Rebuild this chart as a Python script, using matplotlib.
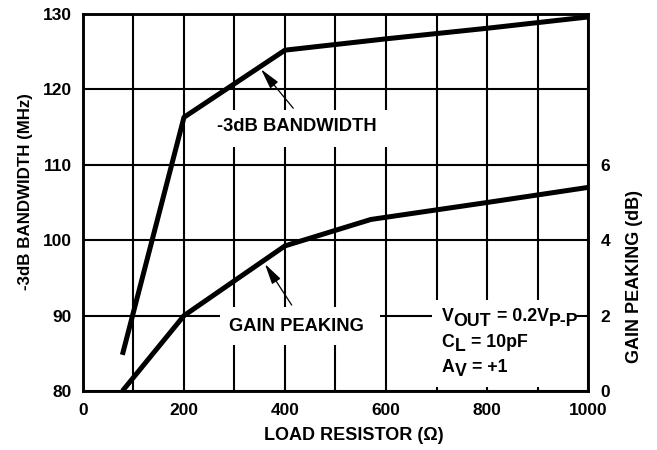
import numpy as np
import matplotlib
matplotlib.use('Agg')
import matplotlib.pyplot as plt
from matplotlib.patches import Rectangle
from matplotlib.transforms import IdentityTransform

# 数据
bw_load = [78, 200, 400, 600, 800, 1000]            # 负载电阻 (Ω)
bw_mhz = [84.8, 116.3, 125.2, 126.7, 128.1, 129.6]  # -3dB 带宽 (MHz)

gp_load = [78, 200, 400, 570, 800, 1000]
gp_db = [0.0, 2.0, 3.85, 4.55, 5.0, 5.4]            # 增益峰值 (dB)

x_ticks = [0, 200, 400, 600, 800, 1000]
y_ticks = [80, 90, 100, 110, 120, 130]
y2_ticks = [0, 2, 4, 6]

plt.rcParams['font.family'] = ['Liberation Sans', 'DejaVu Sans']
plt.rcParams['font.weight'] = 'bold'

fig = plt.figure(figsize=(6.57, 4.5), dpi=100)
ax = fig.add_axes([0.1263, 0.131, 0.7687, 0.838])
ax.set_xlim(0, 1000)
ax.set_ylim(80, 130)
ax.set_xticks(x_ticks)
ax.set_xticks(np.arange(100, 1000, 200), minor=True)
ax.set_yticks(y_ticks)
ax.set_axisbelow(True)
ax.grid(True, which='both', color='black', lw=1.5)
ax.tick_params(which='both', length=0)
ax.tick_params(axis='x', pad=8.5, labelsize=12.5)
ax.tick_params(axis='y', pad=8, labelsize=12.5)
for s in ax.spines.values():
    s.set_linewidth(1.8)
ax.set_xlabel('LOAD RESISTOR (Ω)', fontsize=13, fontweight='bold', va='center', ha='center')
ax.xaxis.set_label_coords(0.536, -0.119)
ax.set_ylabel('-3dB BANDWIDTH (MHz)', fontsize=12.2, fontweight='bold', va='center', ha='center')
ax.yaxis.set_label_coords(-0.114, 0.529)

# 文字后面的白色底（把网格线断开）
for x0, x1, y0, y1 in [(222, 612, 112.36, 117.27), (271, 588, 86.1, 91.1), (691, 974, 80.53, 92.07)]:
    ax.add_patch(Rectangle((x0, y0), x1 - x0, y1 - y0, fc='white', ec='none', zorder=1))

ax2 = ax.twinx()
ax2.set_ylim(0, 10)
ax2.set_yticks(y2_ticks)
ax2.tick_params(length=0, pad=9, labelsize=12.5)
for s in ax2.spines.values():
    s.set_linewidth(1.8)
ax2.set_ylabel('GAIN PEAKING (dB)', fontsize=13, fontweight='bold', va='center', ha='center')
ax2.yaxis.set_label_coords(1.092, 0.304)

ax2.plot(bw_load, [(v - 80) / 5 for v in bw_mhz], color='black', lw=3.6, solid_capstyle='butt', zorder=3)
ax2.plot(gp_load, gp_db, color='black', lw=3.6, solid_capstyle='butt', zorder=3)

ax2.text(424, 115.05, '-3dB BANDWIDTH', transform=ax.transData, ha='center', va='center',
         fontsize=13.2, fontweight='bold', zorder=4)
ax2.text(422, 88.6, 'GAIN PEAKING', transform=ax.transData, ha='center', va='center',
         fontsize=13.2, fontweight='bold', zorder=4)

arrow = dict(arrowstyle='-|>,head_length=0.9,head_width=0.22', color='black', lw=0.9,
             mutation_scale=14, shrinkA=0, shrinkB=0)
ax2.annotate('', xy=(352.5, 122.67), xytext=(416.4, 117.5),
             xycoords=ax.transData, textcoords=ax.transData, arrowprops=arrow, zorder=4)
ax2.annotate('', xy=(360.4, 96.84), xytext=(413.3, 91.4),
             xycoords=ax.transData, textcoords=ax.transData, arrowprops=arrow, zorder=4)

# 条件说明，下标与正文同字号、下移
renderer = fig.canvas.get_renderer()
def sub_line(x, y, parts):
    px, py = ax.transData.transform((x, y))
    for s, dy, gap in parts:
        px += gap
        t = fig.text(px, py + dy, s, transform=IdentityTransform(), ha='left', va='baseline',
                     fontsize=12.8, fontweight='bold')
        px += t.get_window_extent(renderer).width

sub_line(710.3, 89.28, [('V', 0, 0), ('OUT', -4.7, 0), ('= 0.2V', 0, 6), ('P-P', -4.7, 0)])
sub_line(710.3, 85.88, [('C', 0, 0), ('L', -4.7, 0), ('= 10pF', 0, 6)])
sub_line(710.3, 82.56, [('A', 0, 0), ('V', -4.7, 0), ('= +1', 0, 6)])

plt.savefig('out.png', dpi=100)
